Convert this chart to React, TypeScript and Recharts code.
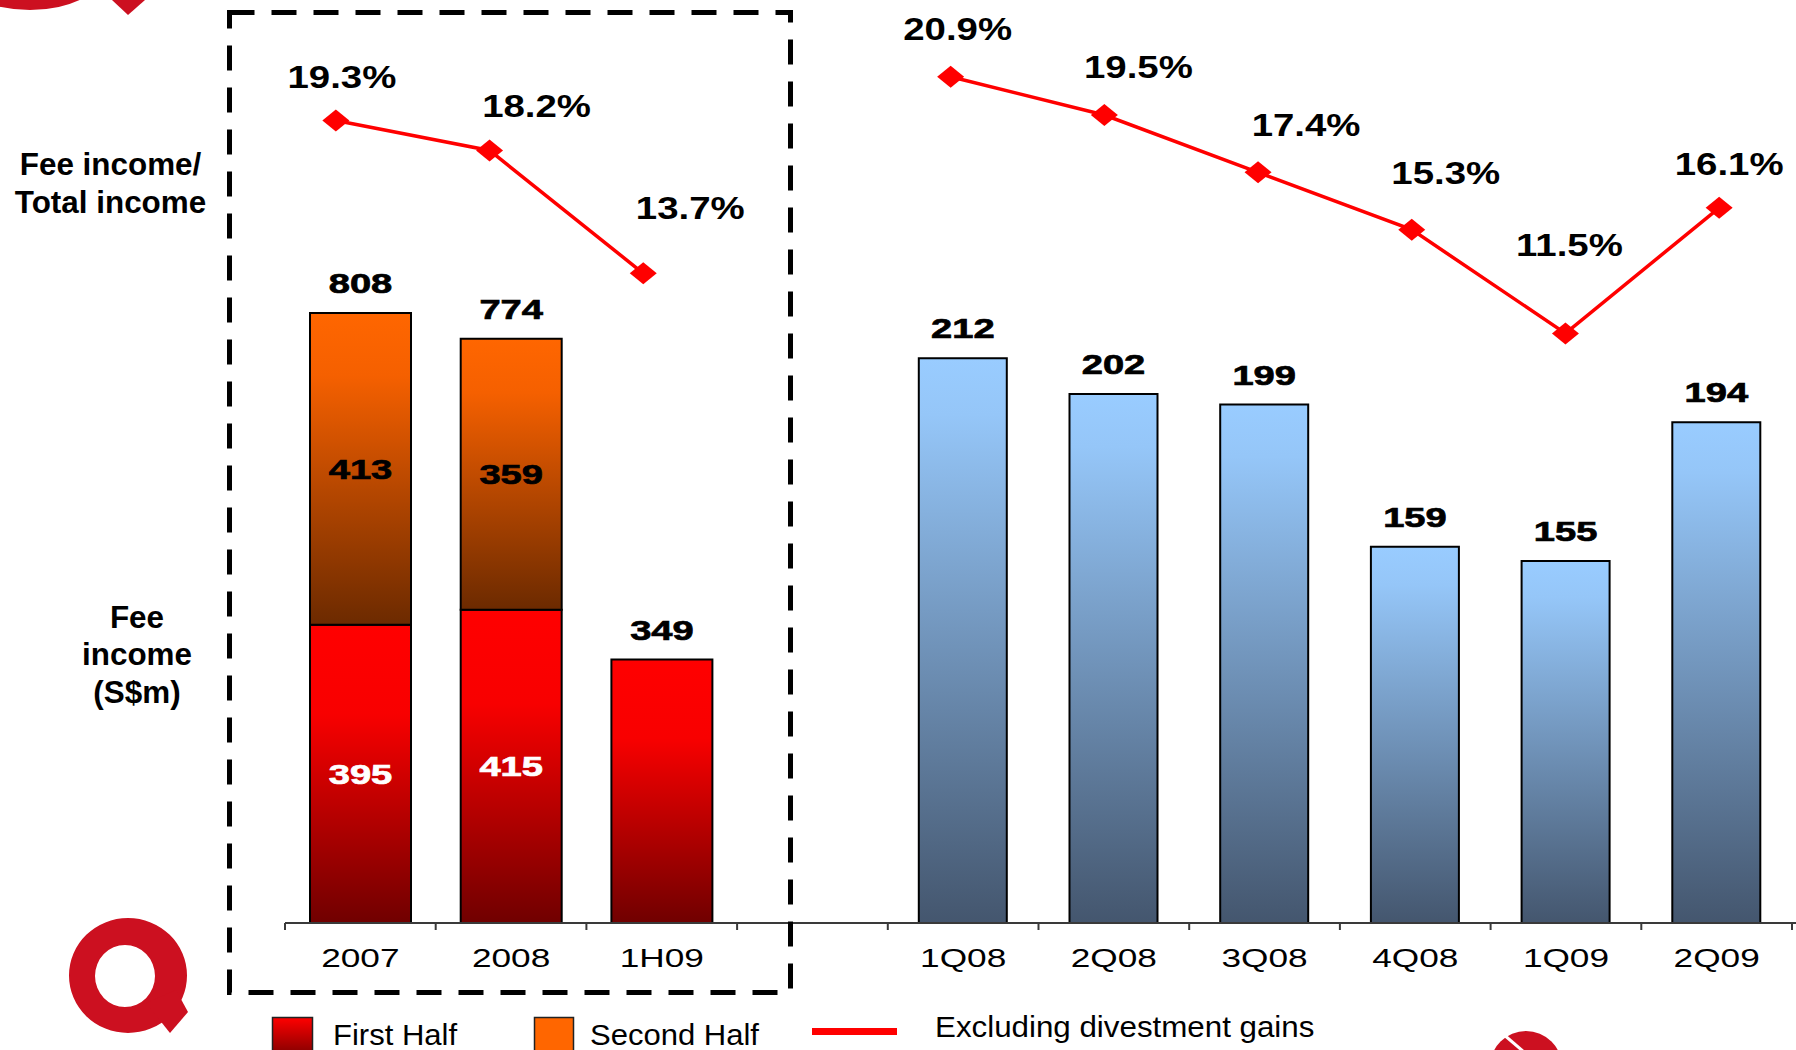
import React from 'react';
import { ComposedChart, Bar, Line, XAxis, YAxis, LabelList } from 'recharts';

// ---- data ----
const categories = ['2007', '2008', '1H09', '', '1Q08', '2Q08', '3Q08', '4Q08', '1Q09', '2Q09'];
const firstHalf: (number | null)[] = [395, 415, 349, null, null, null, null, null, null, null];
const secondHalf: (number | null)[] = [413, 359, null, null, null, null, null, null, null, null];
const quarterlyFee: (number | null)[] = [null, null, null, null, 212, 202, 199, 159, 155, 194];
const feeToTotalPct: (number | null)[] = [19.3, 18.2, 13.7, null, 20.9, 19.5, 17.4, 15.3, 11.5, 16.1];

const rows = categories.map((cat, i) => ({
  cat,
  first: firstHalf[i],
  second: secondHalf[i],
  quarter: quarterlyFee[i],
  pct: feeToTotalPct[i],
}));

// ---- layout / style ----
const W = 1796;
const H = 1050;
const FONT = '"Liberation Sans", Arial, Helvetica, sans-serif';
const AXIS = '#3a3a3a';
const RED = '#FF0000';
const LOGO_RED = '#CC1020';
const MARGIN = { top: 17, right: 4, left: 285, bottom: 97 };
const BAND = (W - MARGIN.left - MARGIN.right) / categories.length;
// label placement around each ratio marker: [dx, dy] of the text centre/baseline
const PCT_LABEL_SHIFT: [number, number][] = [
  [6, -32], [47, -33], [47, -54], [0, 0], [7, -37], [34, -37], [48, -36], [34, -46], [4, -77], [10, -33],
];

type STextProps = {
  x: number; y: number; sx?: number; size: number; weight?: string | number;
  fill?: string; anchor?: 'start' | 'middle' | 'end'; heavy?: boolean; children: React.ReactNode;
};
const SText = ({ x, y, sx = 1, size, weight = 'normal', fill = '#000', anchor = 'middle', heavy, children }: STextProps) => (
  <text
    transform={`translate(${x},${y}) scale(${sx},1)`}
    textAnchor={anchor}
    fontFamily={FONT}
    fontSize={size}
    fontWeight={weight}
    fill={fill}
    stroke={heavy ? fill : 'none'}
    strokeWidth={heavy ? 0.7 : 0}
  >
    {children}
  </text>
);

const ValueText = ({ x, y, fill = '#000', children }: { x: number; y: number; fill?: string; children: React.ReactNode }) => (
  <SText x={x} y={y} sx={1.36} size={28} weight="bold" fill={fill} heavy>
    {children}
  </SText>
);

const rectOf = (props: any) => {
  const vb = props.viewBox && props.viewBox.width != null ? props.viewBox : props;
  const x = Number(vb.x);
  const y = Number(vb.y);
  const w = Number(vb.width);
  const h = Number(vb.height);
  return { x, top: Math.min(y, y + h), w, h: Math.abs(h) };
};

const FirstHalfLabel = (props: any) => {
  const v = props.value;
  if (v == null) return null;
  const i = firstHalf.indexOf(v);
  const r = rectOf(props);
  const cx = r.x + r.w / 2;
  if (i >= 0 && secondHalf[i] != null) {
    return <ValueText x={cx} y={r.top + r.h / 2 + 10} fill="#fff">{v}</ValueText>;
  }
  return <ValueText x={cx} y={r.top - 20}>{v}</ValueText>;
};

const SecondHalfLabel = (props: any) => {
  const v = props.value;
  if (v == null) return null;
  const i = secondHalf.indexOf(v);
  const base = i >= 0 ? firstHalf[i] : null;
  if (base == null) return null;
  const r = rectOf(props);
  const cx = r.x + r.w / 2;
  return (
    <g>
      <ValueText x={cx} y={r.top + r.h / 2 + 10}>{v}</ValueText>
      <ValueText x={cx} y={r.top - 20}>{base + v}</ValueText>
    </g>
  );
};

const QuarterLabel = (props: any) => {
  const v = props.value;
  if (v == null) return null;
  const r = rectOf(props);
  return <ValueText x={r.x + r.w / 2} y={r.top - 20}>{v}</ValueText>;
};

const RatioDot = (props: any) => {
  const { cx, cy, index } = props;
  const v = feeToTotalPct[index];
  if (v == null || cx == null || cy == null || Number.isNaN(cy)) return <g key={`d${index}`} />;
  const [dx, dy] = PCT_LABEL_SHIFT[index];
  return (
    <g key={`d${index}`}>
      <path d={`M${cx - 13.5},${cy} L${cx},${cy - 11} L${cx + 13.5},${cy} L${cx},${cy + 11} Z`} fill={RED} />
      <SText x={cx + dx} y={cy + dy} sx={1.2} size={32} weight="bold">
        {`${v.toFixed(1)}%`}
      </SText>
    </g>
  );
};

const AxisTick = (props: any) => {
  const { x, y, payload, index } = props;
  const half = payload && payload.offset ? payload.offset : BAND / 2;
  const last = index === categories.length - 1;
  return (
    <g>
      <line x1={x - half} x2={x - half} y1={y} y2={y + 7} stroke={AXIS} strokeWidth={2} />
      {last && <line x1={x + half} x2={x + half} y1={y} y2={y + 7} stroke={AXIS} strokeWidth={2} />}
      {last && <line x1={x + half} x2={x + half + 6} y1={y} y2={y} stroke={AXIS} strokeWidth={2} />}
      {payload && payload.value ? (
        <SText x={x} y={y + 44} sx={1.37} size={25.7}>
          {payload.value}
        </SText>
      ) : null}
    </g>
  );
};

const Decorations = () => (
  <svg
    width={W}
    height={H}
    style={{ position: 'absolute', left: 0, top: 0, pointerEvents: 'none' }}
  >
    {/* logo fragment, top left */}
    <path
      fillRule="evenodd"
      fill={LOGO_RED}
      d="M-45,-30 a75,40 0 1,0 150,0 a75,40 0 1,0 -150,0 Z M-25,-30 a55,28 0 1,0 110,0 a55,28 0 1,0 -110,0 Z"
    />
    <polygon points="112,0 145,0 128,15" fill={LOGO_RED} />

    {/* bracket around the yearly figures */}
    <rect x={229.5} y={12.5} width={561} height={980} fill="none" stroke="#000" strokeWidth={5} strokeDasharray="25 17" />

    {/* left captions */}
    <SText x={110.5} y={175} sx={1.03} size={30.5} weight="bold">Fee income/</SText>
    <SText x={110.5} y={213} sx={1.03} size={30.5} weight="bold">Total income</SText>
    <SText x={137} y={627.5} sx={1.03} size={30.5} weight="bold">Fee</SText>
    <SText x={137} y={665} sx={1.03} size={30.5} weight="bold">income</SText>
    <SText x={137} y={703} sx={1.03} size={30.5} weight="bold">(S$m)</SText>

    {/* logo, bottom left */}
    <path
      fillRule="evenodd"
      fill={LOGO_RED}
      d="M69,975.5 a59,57.5 0 1,0 118,0 a59,57.5 0 1,0 -118,0 Z M95,976 a30,31 0 1,0 60,0 a30,31 0 1,0 -60,0 Z"
    />
    <polygon points="146,1003 176,990 188,1012 170,1033" fill={LOGO_RED} />

    {/* logo fragment, bottom right */}
    <circle cx={1526} cy={1067} r={36} fill={LOGO_RED} />
    <line x1={1503} y1={1034} x2={1524} y2={1052} stroke="#fff" strokeWidth={3} />

    {/* legend */}
    <defs>
      <linearGradient id="legRed" x1="0" y1="0" x2="0" y2="1">
        <stop offset="0" stopColor="#FF0000" />
        <stop offset="1" stopColor="#7A0000" />
      </linearGradient>
    </defs>
    <rect x={272.5} y={1017.5} width={40} height={40} fill="url(#legRed)" stroke="#222" strokeWidth={1.5} />
    <SText x={333} y={1045} sx={1.07} size={29} anchor="start">First Half</SText>
    <rect x={534.5} y={1017.5} width={39} height={40} fill="#FF6600" stroke="#222" strokeWidth={1.5} />
    <SText x={590} y={1045} sx={1.07} size={29} anchor="start">Second Half</SText>
    <line x1={812} x2={897} y1={1031.5} y2={1031.5} stroke={RED} strokeWidth={7} />
    <SText x={935} y={1037} sx={1.08} size={29} anchor="start">Excluding divestment gains</SText>
  </svg>
);

export default function App() {
  return (
    <div style={{ position: 'absolute', left: 0, top: 0, width: W, height: H, background: '#fff', overflow: 'hidden' }}>
      <ComposedChart width={W} height={H} data={rows} margin={MARGIN}>
        <defs>
          <linearGradient id="gFirst" x1="0" y1="0" x2="0" y2="1">
            <stop offset="0" stopColor="#FF0000" />
            <stop offset="0.3" stopColor="#F80000" />
            <stop offset="1" stopColor="#700000" />
          </linearGradient>
          <linearGradient id="gSecond" x1="0" y1="0" x2="0" y2="1">
            <stop offset="0" stopColor="#FF6600" />
            <stop offset="0.2" stopColor="#F56000" />
            <stop offset="1" stopColor="#6C2A00" />
          </linearGradient>
          <linearGradient id="gQuarter" x1="0" y1="0" x2="0" y2="1">
            <stop offset="0" stopColor="#99CCFF" />
            <stop offset="0.1" stopColor="#95C6F8" />
            <stop offset="1" stopColor="#44566E" />
          </linearGradient>
        </defs>

        <XAxis
          xAxisId="main"
          dataKey="cat"
          interval={0}
          tickLine={false}
          tickSize={0}
          tickMargin={0}
          axisLine={{ stroke: AXIS, strokeWidth: 2 }}
          tick={<AxisTick />}
          height={30}
        />
        <XAxis xAxisId="q" dataKey="cat" hide height={0} />
        <XAxis xAxisId="l" dataKey="cat" hide height={0} padding={{ left: -26, right: -4 }} />

        <YAxis yAxisId="a" hide domain={[0, 1200]} allowDataOverflow />
        <YAxis yAxisId="q" hide domain={[53.2, 308]} allowDataOverflow />
        <YAxis yAxisId="p" hide domain={[-10.1, 23.09]} allowDataOverflow />

        <Bar xAxisId="main" yAxisId="a" dataKey="first" stackId="half" barSize={101}
          fill="url(#gFirst)" stroke="#000" strokeWidth={2} isAnimationActive={false}>
          <LabelList dataKey="first" content={<FirstHalfLabel />} />
        </Bar>
        <Bar xAxisId="main" yAxisId="a" dataKey="second" stackId="half" barSize={101}
          fill="url(#gSecond)" stroke="#000" strokeWidth={2} isAnimationActive={false}>
          <LabelList dataKey="second" content={<SecondHalfLabel />} />
        </Bar>
        <Bar xAxisId="q" yAxisId="q" dataKey="quarter" barSize={88}
          fill="url(#gQuarter)" stroke="#000" strokeWidth={2} isAnimationActive={false}>
          <LabelList dataKey="quarter" content={<QuarterLabel />} />
        </Bar>

        <Line xAxisId="l" yAxisId="p" dataKey="pct" type="linear" stroke={RED} strokeWidth={3.5}
          connectNulls={false} dot={(p: any) => <RatioDot key={`dot${p.index}`} {...p} />}
          activeDot={false} isAnimationActive={false} />
      </ComposedChart>
      <Decorations />
    </div>
  );
}
